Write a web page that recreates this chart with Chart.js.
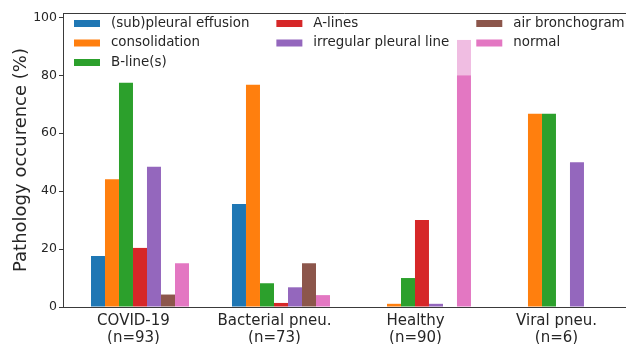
<!DOCTYPE html>
<html>
<head>
<meta charset="utf-8">
<script src="https://cdn.jsdelivr.net/npm/chart.js@4"></script>
<style>
  html, body { margin: 0; padding: 0; background: #fff; }
  #wrap { width: 626px; height: 344px; }
</style>
</head>
<body>
<div id="wrap"><canvas id="chart" width="626" height="344"></canvas></div>
<script>
// categories (x positions 0..3) and their tick labels
const groups = [0, 1, 2, 3];
const groupLabels = [["COVID-19", "(n=93)"], ["Bacterial pneu.", "(n=73)"], ["Healthy", "(n=90)"], ["Viral pneu.", "(n=6)"]];
// labels sit a little left of the bar-group centres in the picture
const labelPositions = [-0.046, 0.954, 1.954, 2.954];

// percentages
const effusion      = [17.6, 35.6, 0, 0];
const consolidation = [44.1, 76.7, 1.1, 66.7];
const bLines        = [77.4, 8.2, 10.0, 66.7];
const aLines        = [20.4, 1.4, 30.0, 0];
const irregular     = [48.4, 6.8, 1.1, 50.0];
const airBronch     = [4.3, 15.1, 0, 0];
const normal        = [15.1, 4.1, 80.0, 0];
const normalExtra   = [0, 0, 12.2, 0]; // lighter part on top of healthy "normal"

const yTicks = [0, 20, 40, 60, 80, 100];

// matplotlib tab10 colours
const seriesInfo = [
  { label: "(sub)pleural effusion", data: effusion, color: "#1f77b4" },
  { label: "consolidation", data: consolidation, color: "#ff7f0e" },
  { label: "B-line(s)", data: bLines, color: "#2ca02c" },
  { label: "A-lines", data: aLines, color: "#d62728" },
  { label: "irregular pleural line", data: irregular, color: "#9467bd" },
  { label: "air bronchogram", data: airBronch, color: "#8c564b" },
  { label: "normal", data: normal, color: "#e377c2" }
];

function toPoints(arr) {
  return groups.map(function (g, i) { return { x: g, y: arr[i] }; });
}

const datasets = seriesInfo.map(function (s) {
  return { label: s.label, data: toPoints(s.data), backgroundColor: s.color, stack: s.label, inLegend: true };
});
datasets.push({ label: "normal (upper)", data: toPoints(normalExtra), backgroundColor: "#f0bde2", stack: "normal", inLegend: false });

const FONT = "'DejaVu Sans', sans-serif";
const textColor = "#262626";
const axisColor = "#3a3a3a";

// draws the top spine and a 3-column legend like matplotlib's
const framePlugin = {
  id: "frame",
  afterDraw: function (chart) {
    const ctx = chart.ctx;
    const a = chart.chartArea;
    ctx.save();
    ctx.strokeStyle = axisColor;
    ctx.lineWidth = 1;
    ctx.beginPath();
    ctx.moveTo(a.left, a.top + 0.5);
    ctx.lineTo(a.right, a.top + 0.5);
    ctx.stroke();

    // legend, column-major, 3 columns split the way matplotlib does (3,2,2)
    const items = chart.data.datasets.filter(function (d) { return d.inLegend; });
    const ncols = 3;
    const base = Math.floor(items.length / ncols), extra = items.length % ncols;
    const colSizes = [];
    for (let c = 0; c < ncols; c++) colSizes.push(base + (c < extra ? 1 : 0));

    ctx.font = "13.4px " + FONT;
    ctx.textBaseline = "middle";
    const swW = 26, swH = 7, gap = 11, colSpace = 27, rowH = 19.5;
    let x = a.left + 11;
    let k = 0;
    for (let c = 0; c < ncols; c++) {
      let maxW = 0;
      for (let r = 0; r < colSizes[c]; r++) {
        const it = items[k++];
        const y = a.top + 10.5 + r * rowH;
        ctx.fillStyle = it.backgroundColor;
        ctx.fillRect(x, y - swH / 2, swW, swH);
        ctx.fillStyle = textColor;
        ctx.fillText(it.label, x + swW + gap, y);
        maxW = Math.max(maxW, ctx.measureText(it.label).width);
      }
      x += swW + gap + maxW + colSpace;
    }
    ctx.restore();
  }
};

new Chart(document.getElementById("chart"), {
  type: "bar",
  data: { datasets: datasets },
  options: {
    responsive: false,
    animation: false,
    layout: { padding: { left: 0, top: 13, right: 0, bottom: 0 } },
    datasets: { bar: { categoryPercentage: 0.695, barPercentage: 1.0, borderWidth: 0 } },
    plugins: { legend: { display: false }, tooltip: { enabled: false } },
    scales: {
      x: {
        type: "linear",
        offset: false,
        min: -0.546,
        max: 3.447,
        afterBuildTicks: function (scale) {
          scale.ticks = labelPositions.map(function (p) { return { value: p }; });
        },
        afterFit: function (scale) { scale.height = 37; },
        grid: { drawOnChartArea: false, drawTicks: false, color: axisColor, offset: false },
        border: { display: true, color: axisColor },
        ticks: {
          padding: 5,
          maxRotation: 0,
          autoSkip: false,
          color: textColor,
          font: { family: FONT, size: 15, lineHeight: 1.15 },
          callback: function (v) { return groupLabels[labelPositions.indexOf(v)]; }
        }
      },
      y: {
        min: 0,
        max: 101.5,
        afterBuildTicks: function (scale) {
          scale.ticks = yTicks.map(function (v) { return { value: v }; });
        },
        afterFit: function (scale) { scale.width = 63; },
        grid: { drawOnChartArea: false, drawTicks: true, tickLength: 4, color: axisColor },
        border: { display: true, color: axisColor },
        ticks: { padding: 2, color: textColor, font: { family: FONT, size: 12.5 } },
        title: {
          display: true,
          text: "Pathology occurence (%)",
          color: textColor,
          font: { family: FONT, size: 18 },
          padding: { top: 11, bottom: 0 }
        }
      }
    }
  },
  plugins: [framePlugin]
});
</script>
</body>
</html>
